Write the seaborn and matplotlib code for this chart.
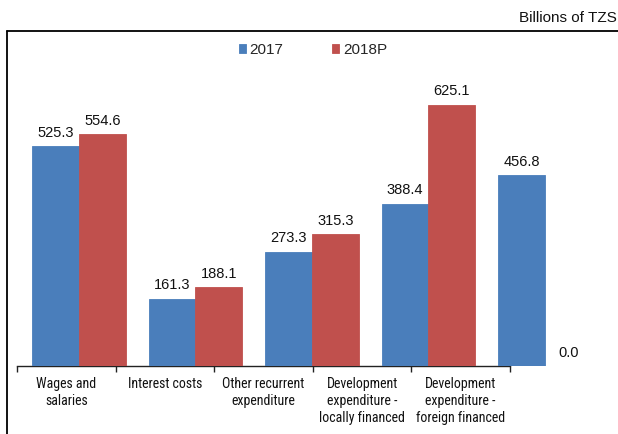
import matplotlib
matplotlib.use("Agg")
import matplotlib.pyplot as plt
from matplotlib import font_manager
from matplotlib.font_manager import FontProperties
from matplotlib.lines import Line2D
import seaborn as sns
import pandas as pd

# Expenditure by category, billions of TZS
categories = [
    "Wages and\nsalaries",
    "Interest costs",
    "Other recurrent\nexpenditure",
    "Development\nexpenditure -\nlocally financed",
    "Development\nexpenditure -\nforeign financed",
]
years = ["2017", "2018P"]
values_2017 = [525.3, 161.3, 273.3, 388.4, 456.8]
values_2018 = [554.6, 188.1, 315.3, 625.1, 0.0]
colors = ["#4A7EBB", "#C0504D"]

df = pd.DataFrame({
    "category": categories * 2,
    "year": [years[0]] * len(categories) + [years[1]] * len(categories),
    "value": values_2017 + values_2018,
})

sns.set_theme(style="white")
plt.rcParams["font.family"] = ["Liberation Sans", "DejaVu Sans"]


def narrow_font():
    """Look for an installed narrow/condensed sans face for the category labels."""
    preferred = ["Liberation Sans Narrow", "Arial Narrow", "Roboto Condensed",
                 "Open Sans Condensed", "Noto Sans Condensed"]
    fonts = font_manager.fontManager.ttflist
    for name in preferred:
        for f in fonts:
            if f.name == name and f.style == "normal" and f.weight in (400, "normal", "regular"):
                return FontProperties(fname=f.fname)
    for f in fonts:
        stretch = str(f.stretch).lower()
        if (("condensed" in stretch and "semi" not in stretch and "extra" not in stretch
             and "ultra" not in stretch) or stretch == "narrow") \
                and f.style == "normal" and f.weight in (400, "normal", "regular") \
                and "Mono" not in f.name and "Serif" not in f.name:
            return FontProperties(fname=f.fname)
    return None


cat_fp = narrow_font()
if cat_fp is not None:
    cat_fp.set_size(10)
    cat_linespacing, cat_pad = 1.25, 8.0
else:
    cat_fp = FontProperties(family="Liberation Sans", size=9.5)
    cat_linespacing, cat_pad = 1.27, 8.2

W, H = 618, 434
fig = plt.figure(figsize=(W / 100, H / 100), dpi=100)


def px(x0, y_top, x1, y_bot):
    return [x0 / W, 1 - y_bot / H, (x1 - x0) / W, (y_bot - y_top) / H]


# category axis with boundary ticks
ax_lab = fig.add_axes(px(17, 50, 510, 366))
ax_lab.set_xlim(0, len(categories))
ax_lab.set_ylim(0, 1)
for s in ["top", "right", "left"]:
    ax_lab.spines[s].set_visible(False)
ax_lab.spines["bottom"].set_color("#222222")
ax_lab.spines["bottom"].set_linewidth(1.0)
ax_lab.set_yticks([])
ax_lab.set_xticks(range(len(categories) + 1))
ax_lab.set_xticklabels([])
ax_lab.tick_params(axis="x", which="major", direction="out", length=4.5,
                   width=1.0, color="#222222", bottom=True)
ax_lab.set_xticks([i + 0.5 for i in range(len(categories))], minor=True)
ax_lab.set_xticklabels(categories, minor=True, fontproperties=cat_fp,
                       color="#111111", linespacing=cat_linespacing)
ax_lab.tick_params(axis="x", which="minor", length=0, pad=cat_pad)
ax_lab.patch.set_alpha(0)

# bars
ax = fig.add_axes(px(17, 50, 605, 366))
sns.barplot(data=df, x="category", y="value", hue="year", palette=colors,
            width=0.8, saturation=1, ax=ax)
ax.set_xlim(-0.532, 4.515)
ax.set_ylim(0, 755.4)
for s in ax.spines.values():
    s.set_visible(False)
ax.set_xticks([])
ax.set_yticks([])
ax.set_xlabel("")
ax.set_ylabel("")
ax.patch.set_alpha(0)

for p in ax.patches:
    p.set_edgecolor(p.get_facecolor())
    p.set_linewidth(0.6)

for container in ax.containers:
    for bar in container:
        h = bar.get_height()
        ax.annotate(f"{h:.1f}", (bar.get_x() + bar.get_width() / 2, h),
                    xytext=(0, 9.6), textcoords="offset points",
                    ha="center", va="center", fontsize=10.5, color="#111111")

handles, labels = ax.get_legend_handles_labels()
ax.get_legend().remove()
fig.legend(handles, labels, loc="center", bbox_to_anchor=(313 / W, 1 - 50 / H),
           ncol=2, frameon=False, fontsize=11, handlelength=0.46,
           handleheight=0.46, handletextpad=0.25, columnspacing=3.2,
           borderpad=0, borderaxespad=0)

fig.text(617 / W, 1 - 18 / H, "Billions of TZS", ha="right", va="center",
         fontsize=11, color="#111111")

# outer frame (left and top edges)
fig.add_artist(Line2D([7 / W, 7 / W], [-0.01, 1 - 31 / H], transform=fig.transFigure,
                      color="black", linewidth=1.3))
fig.add_artist(Line2D([7 / W, 1.01], [1 - 31 / H, 1 - 31 / H], transform=fig.transFigure,
                      color="black", linewidth=1.3))

fig.savefig("out.png", dpi=100)
